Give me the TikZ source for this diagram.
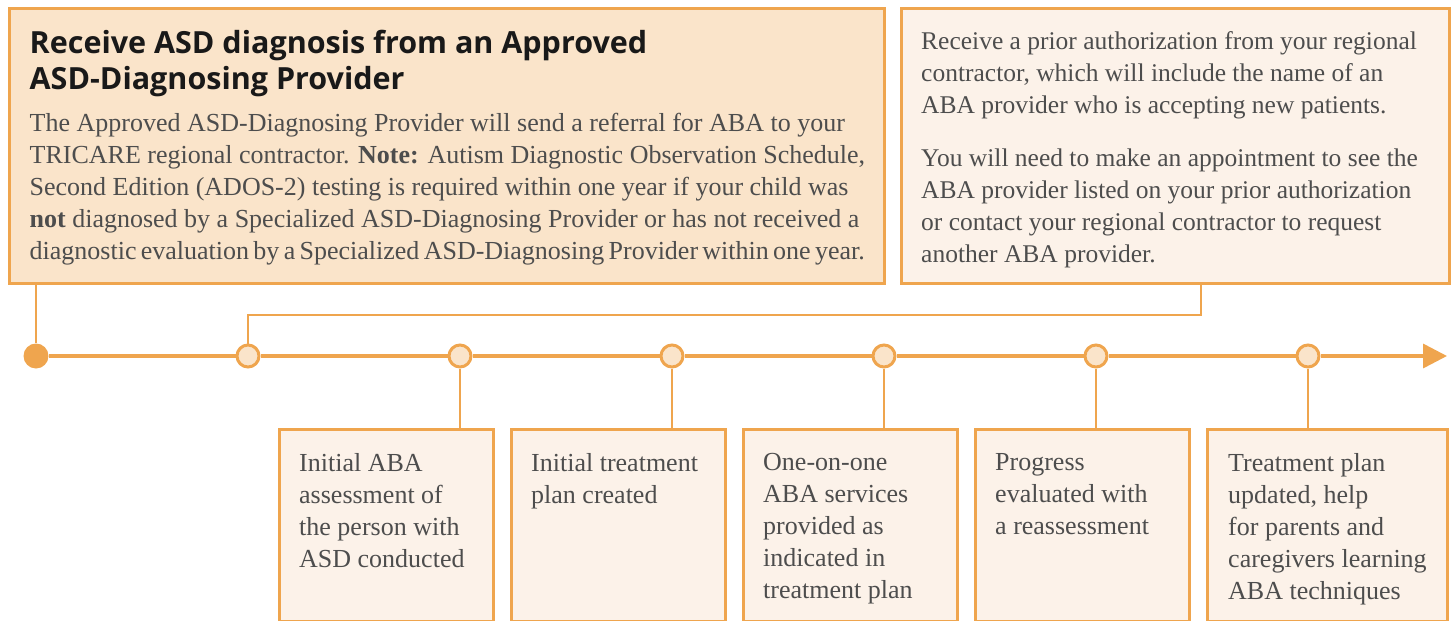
\documentclass[tikz,border=0pt]{standalone}
\usepackage{fontspec}
\setmainfont{Liberation Serif}
\newfontfamily\titlefont{Open Sans}
\usetikzlibrary{arrows.meta}
\definecolor{org}{HTML}{EFA54E}
\definecolor{darkfill}{HTML}{FAE4CA}
\definecolor{lightfill}{HTML}{FCF2E9}
\definecolor{txt}{HTML}{4D4D4D}
\tikzset{
  bigbox/.style={draw=org, fill=darkfill, line width=3pt, inner sep=0pt, anchor=north west},
  lightbox/.style={draw=org, fill=lightfill, line width=3pt, inner sep=0pt, anchor=north west},
  bodytxt/.style={text=txt, inner sep=0pt, anchor=north west, align=left, font=\fontsize{26}{32}\selectfont},
  righttxt/.style={text=txt, inner sep=0pt, anchor=north west, align=left, font=\fontsize{25.5}{32}\selectfont},
  titletxt/.style={text=black!90, inner sep=0pt, anchor=north west, align=left, font=\titlefont\bfseries\fontsize{30.5}{36}\selectfont},
  dot/.style={circle, draw=org, fill=darkfill, line width=3pt, minimum size=22pt, inner sep=0pt},
  startdot/.style={circle, fill=org, minimum size=25pt, inner sep=0pt},
  mainline/.style={draw=org, line width=3.5pt},
  thinline/.style={draw=org, line width=1.6pt},
}
\begin{document}
\begin{tikzpicture}[x=1pt,y=-1pt]
\useasboundingbox (0,0) rectangle (1452,621);
% top boxes
\node[bigbox, minimum width=875pt, minimum height=275pt] (diag) at (8,7) {};
\node[lightbox, minimum width=548pt, minimum height=275pt] (prior) at (900,7) {};
\node[titletxt] (diagtitle) at (29.5,30) {Receive ASD diagnosis from an Approved\\ASD-Diagnosing Provider};
\node[bodytxt] (diagbody) at (29.5,113) {The Approved ASD-Diagnosing Provider will send a referral for ABA to your\\TRICARE regional contractor. \textbf{Note:} Autism Diagnostic Observation Schedule,\\Second Edition (ADOS-2) testing is required within one year if your child was\\\textbf{not} diagnosed by a Specialized ASD-Diagnosing Provider or has not received a\\{\spaceskip=4.3pt plus 0pt minus 0pt diagnostic evaluation by a Specialized ASD-Diagnosing Provider within one year.}};
\node[righttxt] (priortxt) at (921,31) {Receive a prior authorization from your regional\\contractor, which will include the name of an\\ABA provider who is accepting new patients.\\[21pt]You will need to make an appointment to see the\\ABA provider listed on your prior authorization\\or contact your regional contractor to request\\another ABA provider.};
% bottom boxes
\node[lightbox, minimum width=214pt, minimum height=192pt] (b1) at (278,428) {};
\node[lightbox, minimum width=214pt, minimum height=192pt] (b2) at (510,428) {};
\node[lightbox, minimum width=214pt, minimum height=192pt] (b3) at (742,428) {};
\node[lightbox, minimum width=214pt, minimum height=192pt] (b4) at (974,428) {};
\node[lightbox, minimum width=240pt, minimum height=192pt] (b5) at (1206,428) {};
\node[bodytxt] (t1) at (299,453) {Initial ABA\\assessment of\\the person with\\ASD conducted};
\node[bodytxt] (t2) at (531,453) {Initial treatment\\plan created};
\node[bodytxt] (t3) at (763,453) {One-on-one\\ABA services\\provided as\\indicated in\\treatment plan};
\node[bodytxt] (t4) at (995,453) {Progress\\evaluated with\\a reassessment};
\node[bodytxt] (t5) at (1228,453) {Treatment plan\\updated, help\\for parents and\\caregivers learning\\ABA techniques};
% timeline
\coordinate (tip) at (1447,356);
\node[startdot] (c0) at (36,356) {};
\node[dot] (c1) at (248,356) {};
\node[dot] (c2) at (460,356) {};
\node[dot] (c3) at (672,356) {};
\node[dot] (c4) at (884,356) {};
\node[dot] (c5) at (1096,356) {};
\node[dot] (c6) at (1308,356) {};
\draw[mainline, -{Triangle[length=24pt,width=24pt]}] (c6) -- (tip);
\draw[mainline] (c0) -- (c1);
\draw[mainline] (c1) -- (c2);
\draw[mainline] (c2) -- (c3);
\draw[mainline] (c3) -- (c4);
\draw[mainline] (c4) -- (c5);
\draw[mainline] (c5) -- (c6);
% connectors
\draw[line width=2.5pt, org] (diag.south -| c0) -- (c0);
\coordinate (k) at (1201,315);
\draw[thinline] (k |- prior.south) -- (k) -| (c1);
\draw[thinline] (c2) -- (c2 |- b1.north);
\draw[thinline] (c3) -- (c3 |- b2.north);
\draw[thinline] (c4) -- (c4 |- b3.north);
\draw[thinline] (c5) -- (c5 |- b4.north);
\draw[thinline] (c6) -- (c6 |- b5.north);
\end{tikzpicture}
\end{document}
